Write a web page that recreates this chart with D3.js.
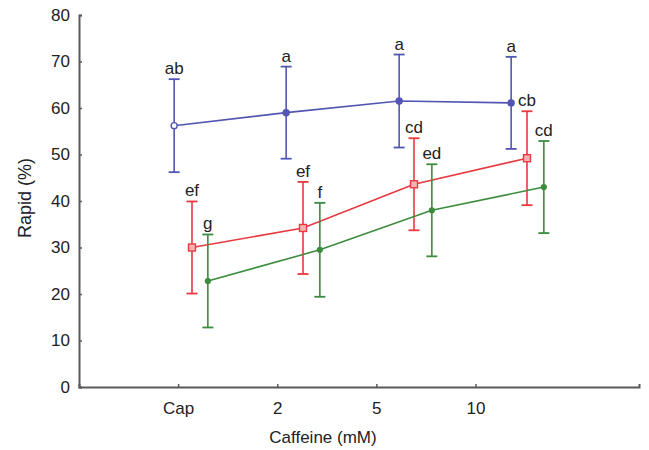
<!DOCTYPE html>
<html>
<head>
<meta charset="utf-8">
<script src="https://cdn.jsdelivr.net/npm/d3@7"></script>
<style>
  body { margin: 0; background: #fff; }
  text { font-family: "Liberation Sans", Arial, sans-serif; fill: #222; }
</style>
</head>
<body>
<div id="chart"></div>
<script>
// tick labels on the x axis
var categories = ["Cap", "2", "5", "10"];
var yTicks = [0, 10, 20, 30, 40, 50, 60, 70, 80];

// x positions of each series (in category units, the three series are staggered)
var blueX = [0.96, 2.09, 3.23, 4.36];
var redX = [1.14, 2.26, 3.38, 4.52];
var greenX = [1.30, 2.43, 3.56, 4.69];

// means and error (SD)
var blueMean = [56.2, 59.0, 61.5, 61.1];
var blueErr = [10.0, 9.9, 10.0, 9.9];
var blueLetters = ["ab", "a", "a", "a"];

var redMean = [30.0, 34.2, 43.6, 49.2];
var redErr = [9.9, 9.9, 9.9, 10.1];
var redLetters = ["ef", "ef", "cd", "cb"];

var greenMean = [22.8, 29.5, 38.0, 43.0];
var greenErr = [10.0, 10.1, 9.9, 9.9];
var greenLetters = ["g", "f", "ed", "cd"];

(function() {
	var width = 649, height = 450;

	var svg = d3.select("#chart")
				.append("svg")
				.attr("width", width)
				.attr("height", height);

	var xScale = d3.scaleLinear()
					.domain([0, 5.65])
					.range([79, 639]);

	var yScale = d3.scaleLinear()
					.domain([0, 80])
					.range([387, 15]);

	// axes
	var yAxis = d3.axisLeft(yScale)
					.tickValues(yTicks)
					.tickSize(-3)
					.tickPadding(9);

	var xAxis = d3.axisBottom(xScale)
					.tickValues([1, 2, 3, 4])
					.tickFormat(function(d) { return categories[d - 1]; })
					.tickSize(-3)
					.tickPadding(15);

	var gy = svg.append("g")
		.attr("transform", "translate(" + xScale(0) + ",0)")
		.call(yAxis);

	var gx = svg.append("g")
		.attr("transform", "translate(0," + yScale(0) + ")")
		.call(xAxis);

	[gx, gy].forEach(function(g) {
		g.select(".domain").attr("stroke", "#5a5a5a").attr("stroke-width", 2);
		g.selectAll(".tick line").attr("stroke", "#5a5a5a").attr("stroke-width", 1.5);
		g.selectAll(".tick text")
			.attr("font-size", 17)
			.attr("font-family", "Liberation Sans, Arial, sans-serif")
			.attr("fill", "#222");
	});

	// axis titles
	svg.append("text")
		.attr("x", 323)
		.attr("y", 443)
		.attr("text-anchor", "middle")
		.attr("font-size", 17)
		.text("Caffeine (mM)");

	svg.append("text")
		.attr("transform", "translate(31,198) rotate(-90)")
		.attr("text-anchor", "middle")
		.attr("font-size", 18)
		.text("Rapid (%)");

	var series = [
		{ name: "blue", color: "#5255b2", x: blueX, mean: blueMean, err: blueErr, letters: blueLetters, marker: "circle" },
		{ name: "red", color: "#e8393f", x: redX, mean: redMean, err: redErr, letters: redLetters, marker: "square" },
		{ name: "green", color: "#3c8c3e", x: greenX, mean: greenMean, err: greenErr, letters: greenLetters, marker: "dot" }
	];

	var line = d3.line()
				.x(function(d) { return xScale(d.x); })
				.y(function(d) { return yScale(d.y); });

	series.forEach(function(s) {
		var pts = s.mean.map(function(m, i) {
			return { x: s.x[i], y: m, e: s.err[i], label: s.letters[i] };
		});

		var g = svg.append("g").attr("class", "series-" + s.name);

		g.append("path")
			.datum(pts)
			.attr("d", line)
			.attr("fill", "none")
			.attr("stroke", s.color)
			.attr("stroke-width", 1.6);

		// error bars
		g.selectAll(".err")
			.data(pts)
			.enter()
			.append("line")
			.attr("class", "err")
			.attr("x1", function(d) { return xScale(d.x); })
			.attr("x2", function(d) { return xScale(d.x); })
			.attr("y1", function(d) { return yScale(d.y + d.e); })
			.attr("y2", function(d) { return yScale(d.y - d.e); })
			.attr("stroke", s.color)
			.attr("stroke-width", 1.6);

		["top", "bottom"].forEach(function(end) {
			g.selectAll(".cap-" + end)
				.data(pts)
				.enter()
				.append("line")
				.attr("class", "cap-" + end)
				.attr("x1", function(d) { return xScale(d.x) - 5.5; })
				.attr("x2", function(d) { return xScale(d.x) + 5.5; })
				.attr("y1", function(d) { return yScale(end === "top" ? d.y + d.e : d.y - d.e); })
				.attr("y2", function(d) { return yScale(end === "top" ? d.y + d.e : d.y - d.e); })
				.attr("stroke", s.color)
				.attr("stroke-width", 1.8);
		});

		// markers
		if (s.marker === "square") {
			g.selectAll(".mk")
				.data(pts)
				.enter()
				.append("rect")
				.attr("class", "mk")
				.attr("x", function(d) { return xScale(d.x) - 3.5; })
				.attr("y", function(d) { return yScale(d.y) - 3.5; })
				.attr("width", 7)
				.attr("height", 7)
				.attr("fill", "#f6b3b3")
				.attr("stroke", s.color)
				.attr("stroke-width", 1.4);
		} else {
			g.selectAll(".mk")
				.data(pts)
				.enter()
				.append("circle")
				.attr("class", "mk")
				.attr("cx", function(d) { return xScale(d.x); })
				.attr("cy", function(d) { return yScale(d.y); })
				.attr("r", s.marker === "circle" ? 3 : 2.4)
				.attr("fill", function(d, i) { return i === 0 && s.marker === "circle" ? "#fff" : s.color; })
				.attr("stroke", s.color)
				.attr("stroke-width", 1.4);
		}

		// significance letters
		g.selectAll(".letter")
			.data(pts)
			.enter()
			.append("text")
			.attr("class", "letter")
			.attr("x", function(d) { return xScale(d.x); })
			.attr("y", function(d) { return yScale(d.y + d.e) - 5; })
			.attr("text-anchor", "middle")
			.attr("font-size", 17)
			.text(function(d) { return d.label; });
	});
})();
</script>
</body>
</html>
